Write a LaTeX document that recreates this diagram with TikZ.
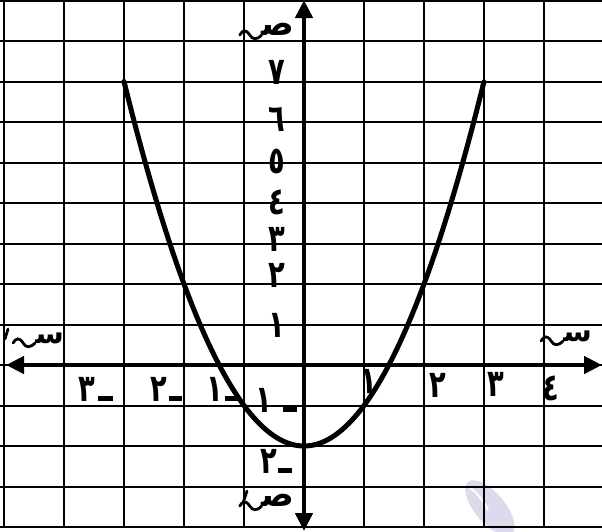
\documentclass[tikz,border=0pt]{standalone}
\usepackage{fontspec}
\newfontfamily\arabicfont[Script=Arabic]{DejaVu Sans}
\TeXXeTstate=1
\usetikzlibrary{arrows.meta,calc}
\definecolor{wmark}{RGB}{222,218,237}
\newcommand\nm[1]{\scalebox{0.72}[1]{#1}}
\newcommand\mywave[1]{\draw[wave] (#1) .. controls ($(#1)+(-5,5)$) and ($(#1)+(-9,5)$) .. ($(#1)+(-12,0)$) .. controls ($(#1)+(-16,-6)$) and ($(#1)+(-19,-5)$) .. ($(#1)+(-22,0)$);}
\begin{document}
\begin{tikzpicture}[x=1pt,y=-1pt,
  gridline/.style={line width=2pt, black},
  axisline/.style={line width=4.5pt, {Triangle[length=18pt,width=17pt]}-{Triangle[length=18pt,width=17pt]}},
  curveline/.style={line width=5pt, line cap=round},
  num/.style={font=\arabicfont\bfseries\fontsize{38}{38}\selectfont, inner sep=0pt, anchor=center},
  letter/.style={font=\arabicfont\bfseries\fontsize{34}{34}\selectfont, inner sep=0pt, anchor=base east, text height=12pt, text depth=0pt},
  sletter/.style={letter, font=\arabicfont\bfseries\fontsize{29}{29}\selectfont},
  wave/.style={line width=2.8pt, line cap=round},
  primemark/.style={line width=2.8pt, line cap=round}]
\useasboundingbox (0,0) rectangle (602,531);
\fill[white] (0,0) rectangle (602,531);
% watermark
\fill[wmark] (490,508) ellipse[x radius=34, y radius=15, rotate=-50];
\draw[white, line width=2pt] (469,487) .. controls (477,493) and (483,500) .. (488,510);
% grid
\foreach \i in {0,...,9} \draw[gridline] ({4+60*\i},0) -- ({4+60*\i},528);
\foreach \j in {0,...,13} \draw[gridline] (0,{0.5+40.5*\j}) -- (602,{0.5+40.5*\j});
% axes
\coordinate (xl) at (6,365);
\coordinate (xr) at (602,365);
\coordinate (yt) at (304,0);
\coordinate (yb) at (304,531);
\draw[axisline] (xl) -- (xr);
\draw[axisline] (yb) -- (yt);
% parabola y = x^2 - 2
\draw[curveline] plot[domain=-3:3, samples=121] ({304+60*\x},{365-40.5*(\x*\x-2)});
% y labels
\node[num] (y7) at (277,72) {\nm{٧}};
\node[num] (y6) at (277,119) {\nm{٦}};
\node[num] (y5) at (277,161) {\nm{٥}};
\node[num] (y4) at (277,202) {\nm{٤}};
\node[num] (y3) at (277,239) {\nm{٣}};
\node[num] (y2) at (277,275) {\nm{٢}};
\node[num] (y1) at (277,325) {\nm{١}};
\node[num] (ym1) at (276,400) {\nm{١}\kern11pt\rule{14pt}{5pt}};
\node[num] (ym2) at (276,461) {\nm{٢}\kern1pt\rule{14pt}{5pt}};
% x labels
\node[num] (x1) at (369,381) {\nm{١}};
\node[num] (x2) at (438,385) {\nm{٢}};
\node[num] (x3) at (496,384) {\nm{٣}};
\node[num] (x4) at (551,388) {\nm{٤}};
\node[num] (xm1) at (223,389) {\nm{١}\kern2pt\rule{15pt}{5pt}};
\node[num] (xm2) at (166,389) {\nm{٢}\kern2pt\rule{13pt}{5pt}};
\node[num] (xm3) at (96,389) {\nm{٣}\kern3pt\rule{15pt}{5pt}};
% axis names
\node[letter] (ytop) at (295,35) {ﺻ};
\mywave{ytop.base west}
\node[letter] (ybot) at (295,506) {ﺻ};
\mywave{ybot.base west}
\draw[primemark] (243,503) -- (247,491);
\node[sletter] (xleft) at (64,343) {ﺳ};
\mywave{xleft.base west}
\draw[primemark] (5,339) -- (8,329);
\node[sletter] (xright) at (592,341) {ﺳ};
\mywave{xright.base west}
\end{tikzpicture}
\end{document}
